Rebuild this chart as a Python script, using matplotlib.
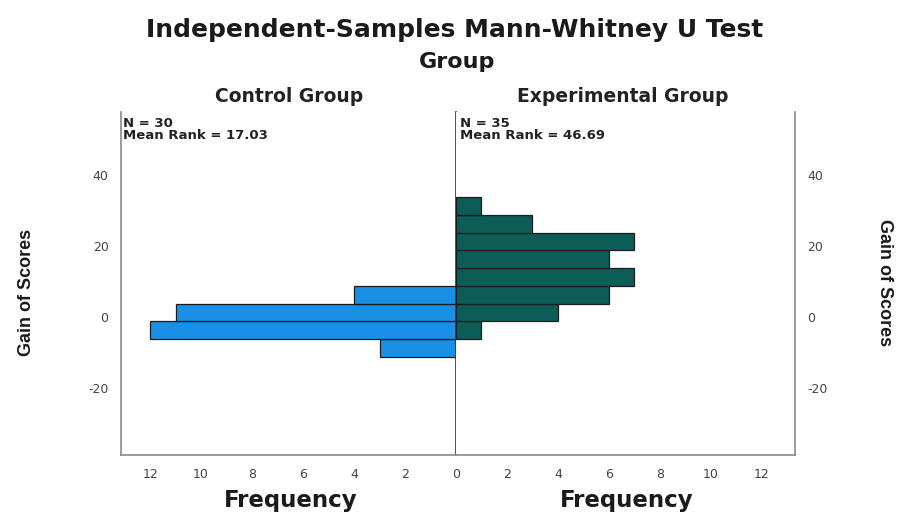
import matplotlib
matplotlib.use("Agg")
import matplotlib.pyplot as plt

plt.rcParams["axes.unicode_minus"] = False

# histogram data (bin lower edges of gain score, frequency)
bin_width = 5
control_edges = [-11.25, -6.25, -1.25, 3.75]
control_counts = [3, 12, 11, 4]
exp_edges = [-6.25, -1.25, 3.75, 8.75, 13.75, 18.75, 23.75, 28.75]
exp_counts = [1, 4, 6, 7, 6, 7, 3, 1]

y_ticks = [-20, 0, 20, 40]
left_x_ticks = [0, 2, 4, 6, 8, 10, 12]
right_x_ticks = [2, 4, 6, 8, 10, 12]

control_label = "N = 30\nMean Rank = 17.03"
exp_label = "N = 35\nMean Rank = 46.69"

blue = "#1a8fe6"
teal = "#0c5c57"

fig = plt.figure(figsize=(9.01, 5.16), dpi=100)
W, H = 901, 516

def px_axes(x0, y0, x1, y1):
    return fig.add_axes([x0 / W, 1 - y1 / H, (x1 - x0) / W, (y1 - y0) / H])

ax1 = px_axes(121, 112, 456, 455)
ax2 = px_axes(456, 112, 795, 455)

ax1.barh(control_edges, control_counts, height=bin_width, align="edge",
         color=blue, edgecolor="#1c1c1c", linewidth=0.9)
ax2.barh(exp_edges, exp_counts, height=bin_width, align="edge",
         color=teal, edgecolor="#1c1c1c", linewidth=0.9)

for ax in (ax1, ax2):
    ax.set_ylim(-38.9, 57.7)
    ax.set_yticks(y_ticks)
    ax.spines["top"].set_visible(False)
    for s in ax.spines.values():
        s.set_color("#8a8a8a")
        s.set_linewidth(1.2)
    ax.tick_params(length=0, labelsize=9, labelcolor="#444444", pad=9)

ax1.set_xticks(left_x_ticks)
ax2.set_xticks(right_x_ticks)
ax1.set_xlim(13.14, 0)
ax2.set_xlim(0, 13.3)
ax1.spines["right"].set_color("#333333")
ax2.spines["left"].set_visible(False)
ax2.yaxis.tick_right()

ax1.text(0.006, 0.985, control_label, transform=ax1.transAxes, ha="left",
         va="top", fontsize=9.5, fontweight="bold", color="#222222",
         linespacing=0.9)
ax2.text(0.012, 0.985, exp_label, transform=ax2.transAxes, ha="left",
         va="top", fontsize=9.5, fontweight="bold", color="#222222",
         linespacing=0.9)

fig.text(455 / W, 1 - 30 / H, "Independent-Samples Mann-Whitney U Test",
         ha="center", va="center", fontsize=18, fontweight="bold", color="#1a1a1a")
fig.text(457 / W, 1 - 62 / H, "Group", ha="center", va="center",
         fontsize=16, fontweight="bold", color="#1a1a1a")
fig.text(289 / W, 1 - 97 / H, "Control Group", ha="center", va="center",
         fontsize=13.5, fontweight="bold", color="#222222")
fig.text(623 / W, 1 - 97 / H, "Experimental Group", ha="center", va="center",
         fontsize=13.5, fontweight="bold", color="#222222")
fig.text(291 / W, 1 - 500 / H, "Frequency", ha="center", va="center",
         fontsize=16.5, fontweight="bold", color="#1a1a1a")
fig.text(627 / W, 1 - 500 / H, "Frequency", ha="center", va="center",
         fontsize=16.5, fontweight="bold", color="#1a1a1a")
fig.text(27 / W, 1 - 292 / H, "Gain of Scores", ha="center", va="center",
         rotation=90, fontsize=13, family="Liberation Sans", fontweight="bold",
         color="#1a1a1a")
fig.text(885 / W, 1 - 283 / H, "Gain of Scores", ha="center", va="center",
         rotation=270, fontsize=13, family="Liberation Sans", fontweight="bold",
         color="#1a1a1a")

fig.savefig("out.png", dpi=100)
